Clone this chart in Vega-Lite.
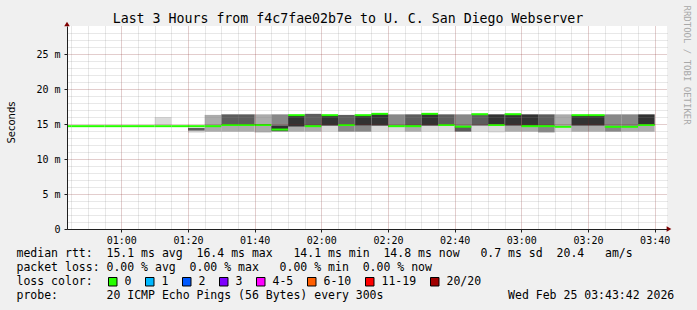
{
  "$schema": "https://vega.github.io/schema/vega-lite/v6.json",
  "width": 600,
  "height": 203,
  "autosize": {"type": "none"},
  "padding": {"left": 67, "top": 26, "right": 30, "bottom": 81},
  "background": "#f0f0f0",
  "view": {"fill": "#ffffff", "stroke": null},
  "config": {"font": "DejaVu Sans Mono"},
  "title": {
    "text": "Last 3 Hours from f4c7fae02b7e to U. C. San Diego Webserver",
    "font": "DejaVu Sans Mono",
    "fontSize": 13.25,
    "fontWeight": "normal",
    "color": "#000000",
    "anchor": "middle",
    "frame": "group",
    "dx": -19,
    "dy": 34,
    "baseline": "alphabetic",
    "offset": 3
  },
  "datasets": {
    "smoke": [
      {"t0": "2026-02-25T01:10:00", "t1": "2026-02-25T01:15:00", "lo": 14.86, "hi": 16.0, "d": 1},
      {"t0": "2026-02-25T01:20:00", "t1": "2026-02-25T01:25:00", "lo": 13.76, "hi": 14.05, "d": 1},
      {"t0": "2026-02-25T01:20:00", "t1": "2026-02-25T01:25:00", "lo": 14.05, "hi": 14.45, "d": 4},
      {"t0": "2026-02-25T01:25:00", "t1": "2026-02-25T01:30:00", "lo": 13.9, "hi": 16.3, "d": 2},
      {"t0": "2026-02-25T01:30:00", "t1": "2026-02-25T01:35:00", "lo": 13.9, "hi": 14.86, "d": 2},
      {"t0": "2026-02-25T01:30:00", "t1": "2026-02-25T01:35:00", "lo": 14.86, "hi": 16.38, "d": 4},
      {"t0": "2026-02-25T01:35:00", "t1": "2026-02-25T01:40:00", "lo": 13.9, "hi": 14.86, "d": 2},
      {"t0": "2026-02-25T01:35:00", "t1": "2026-02-25T01:40:00", "lo": 14.86, "hi": 16.38, "d": 4},
      {"t0": "2026-02-25T01:40:00", "t1": "2026-02-25T01:45:00", "lo": 13.8, "hi": 16.38, "d": 2},
      {"t0": "2026-02-25T01:45:00", "t1": "2026-02-25T01:50:00", "lo": 13.9, "hi": 16.38, "d": 3},
      {"t0": "2026-02-25T01:45:00", "t1": "2026-02-25T01:50:00", "lo": 14.05, "hi": 14.76, "d": 5},
      {"t0": "2026-02-25T01:50:00", "t1": "2026-02-25T01:55:00", "lo": 13.9, "hi": 14.62, "d": 2},
      {"t0": "2026-02-25T01:50:00", "t1": "2026-02-25T01:55:00", "lo": 14.62, "hi": 16.26, "d": 5},
      {"t0": "2026-02-25T01:55:00", "t1": "2026-02-25T02:00:00", "lo": 13.9, "hi": 14.69, "d": 2},
      {"t0": "2026-02-25T01:55:00", "t1": "2026-02-25T02:00:00", "lo": 14.69, "hi": 16.45, "d": 4},
      {"t0": "2026-02-25T02:00:00", "t1": "2026-02-25T02:05:00", "lo": 13.9, "hi": 14.76, "d": 1},
      {"t0": "2026-02-25T02:00:00", "t1": "2026-02-25T02:05:00", "lo": 14.76, "hi": 16.26, "d": 5},
      {"t0": "2026-02-25T02:05:00", "t1": "2026-02-25T02:10:00", "lo": 13.9, "hi": 14.86, "d": 3},
      {"t0": "2026-02-25T02:05:00", "t1": "2026-02-25T02:10:00", "lo": 14.86, "hi": 16.3, "d": 4},
      {"t0": "2026-02-25T02:10:00", "t1": "2026-02-25T02:15:00", "lo": 13.9, "hi": 14.76, "d": 3},
      {"t0": "2026-02-25T02:10:00", "t1": "2026-02-25T02:15:00", "lo": 14.76, "hi": 16.26, "d": 5},
      {"t0": "2026-02-25T02:15:00", "t1": "2026-02-25T02:20:00", "lo": 13.9, "hi": 14.76, "d": 1},
      {"t0": "2026-02-25T02:15:00", "t1": "2026-02-25T02:20:00", "lo": 14.76, "hi": 16.45, "d": 5},
      {"t0": "2026-02-25T02:20:00", "t1": "2026-02-25T02:25:00", "lo": 13.9, "hi": 14.69, "d": 1},
      {"t0": "2026-02-25T02:20:00", "t1": "2026-02-25T02:25:00", "lo": 14.69, "hi": 16.38, "d": 3},
      {"t0": "2026-02-25T02:25:00", "t1": "2026-02-25T02:30:00", "lo": 13.9, "hi": 14.69, "d": 2},
      {"t0": "2026-02-25T02:25:00", "t1": "2026-02-25T02:30:00", "lo": 14.69, "hi": 16.38, "d": 4},
      {"t0": "2026-02-25T02:30:00", "t1": "2026-02-25T02:35:00", "lo": 13.9, "hi": 14.76, "d": 1},
      {"t0": "2026-02-25T02:30:00", "t1": "2026-02-25T02:35:00", "lo": 14.76, "hi": 16.45, "d": 5},
      {"t0": "2026-02-25T02:35:00", "t1": "2026-02-25T02:40:00", "lo": 13.9, "hi": 14.86, "d": 1},
      {"t0": "2026-02-25T02:35:00", "t1": "2026-02-25T02:40:00", "lo": 14.86, "hi": 16.38, "d": 4},
      {"t0": "2026-02-25T02:40:00", "t1": "2026-02-25T02:45:00", "lo": 13.9, "hi": 14.62, "d": 4},
      {"t0": "2026-02-25T02:40:00", "t1": "2026-02-25T02:45:00", "lo": 14.62, "hi": 16.38, "d": 3},
      {"t0": "2026-02-25T02:45:00", "t1": "2026-02-25T02:50:00", "lo": 13.9, "hi": 14.76, "d": 1},
      {"t0": "2026-02-25T02:45:00", "t1": "2026-02-25T02:50:00", "lo": 14.76, "hi": 16.4, "d": 4},
      {"t0": "2026-02-25T02:50:00", "t1": "2026-02-25T02:55:00", "lo": 13.8, "hi": 14.86, "d": 1},
      {"t0": "2026-02-25T02:50:00", "t1": "2026-02-25T02:55:00", "lo": 14.86, "hi": 16.38, "d": 5},
      {"t0": "2026-02-25T02:55:00", "t1": "2026-02-25T03:00:00", "lo": 13.9, "hi": 14.76, "d": 2},
      {"t0": "2026-02-25T02:55:00", "t1": "2026-02-25T03:00:00", "lo": 14.76, "hi": 16.4, "d": 5},
      {"t0": "2026-02-25T03:00:00", "t1": "2026-02-25T03:05:00", "lo": 13.9, "hi": 14.69, "d": 2},
      {"t0": "2026-02-25T03:00:00", "t1": "2026-02-25T03:05:00", "lo": 14.69, "hi": 16.38, "d": 5},
      {"t0": "2026-02-25T03:05:00", "t1": "2026-02-25T03:10:00", "lo": 13.8, "hi": 14.69, "d": 3},
      {"t0": "2026-02-25T03:05:00", "t1": "2026-02-25T03:10:00", "lo": 14.69, "hi": 16.38, "d": 4},
      {"t0": "2026-02-25T03:10:00", "t1": "2026-02-25T03:15:00", "lo": 13.9, "hi": 14.6, "d": 1},
      {"t0": "2026-02-25T03:10:00", "t1": "2026-02-25T03:15:00", "lo": 14.6, "hi": 16.38, "d": 2},
      {"t0": "2026-02-25T03:15:00", "t1": "2026-02-25T03:20:00", "lo": 13.9, "hi": 14.76, "d": 2},
      {"t0": "2026-02-25T03:15:00", "t1": "2026-02-25T03:20:00", "lo": 14.76, "hi": 16.26, "d": 5},
      {"t0": "2026-02-25T03:20:00", "t1": "2026-02-25T03:25:00", "lo": 13.9, "hi": 14.76, "d": 2},
      {"t0": "2026-02-25T03:20:00", "t1": "2026-02-25T03:25:00", "lo": 14.76, "hi": 16.26, "d": 5},
      {"t0": "2026-02-25T03:25:00", "t1": "2026-02-25T03:30:00", "lo": 13.9, "hi": 14.6, "d": 3},
      {"t0": "2026-02-25T03:25:00", "t1": "2026-02-25T03:30:00", "lo": 14.6, "hi": 16.38, "d": 3},
      {"t0": "2026-02-25T03:30:00", "t1": "2026-02-25T03:35:00", "lo": 13.9, "hi": 14.6, "d": 2},
      {"t0": "2026-02-25T03:30:00", "t1": "2026-02-25T03:35:00", "lo": 14.6, "hi": 16.38, "d": 3},
      {"t0": "2026-02-25T03:35:00", "t1": "2026-02-25T03:40:00", "lo": 13.9, "hi": 14.86, "d": 2},
      {"t0": "2026-02-25T03:35:00", "t1": "2026-02-25T03:40:00", "lo": 14.86, "hi": 16.38, "d": 5}
    ],
    "median": [
      {"t0": "2026-02-25T00:40:00", "t1": "2026-02-25T00:45:00", "ms": 14.69, "loss": "0"},
      {"t0": "2026-02-25T00:45:00", "t1": "2026-02-25T00:50:00", "ms": 14.69, "loss": "0"},
      {"t0": "2026-02-25T00:50:00", "t1": "2026-02-25T00:55:00", "ms": 14.69, "loss": "0"},
      {"t0": "2026-02-25T00:55:00", "t1": "2026-02-25T01:00:00", "ms": 14.69, "loss": "0"},
      {"t0": "2026-02-25T01:00:00", "t1": "2026-02-25T01:05:00", "ms": 14.69, "loss": "0"},
      {"t0": "2026-02-25T01:05:00", "t1": "2026-02-25T01:10:00", "ms": 14.69, "loss": "0"},
      {"t0": "2026-02-25T01:10:00", "t1": "2026-02-25T01:15:00", "ms": 14.69, "loss": "0"},
      {"t0": "2026-02-25T01:15:00", "t1": "2026-02-25T01:20:00", "ms": 14.69, "loss": "0"},
      {"t0": "2026-02-25T01:20:00", "t1": "2026-02-25T01:25:00", "ms": 14.69, "loss": "0"},
      {"t0": "2026-02-25T01:25:00", "t1": "2026-02-25T01:30:00", "ms": 14.69, "loss": "0"},
      {"t0": "2026-02-25T01:30:00", "t1": "2026-02-25T01:35:00", "ms": 14.86, "loss": "0"},
      {"t0": "2026-02-25T01:35:00", "t1": "2026-02-25T01:40:00", "ms": 14.86, "loss": "0"},
      {"t0": "2026-02-25T01:40:00", "t1": "2026-02-25T01:45:00", "ms": 14.86, "loss": "0"},
      {"t0": "2026-02-25T01:45:00", "t1": "2026-02-25T01:50:00", "ms": 14.21, "loss": "0"},
      {"t0": "2026-02-25T01:50:00", "t1": "2026-02-25T01:55:00", "ms": 16.26, "loss": "0"},
      {"t0": "2026-02-25T01:55:00", "t1": "2026-02-25T02:00:00", "ms": 14.69, "loss": "0"},
      {"t0": "2026-02-25T02:00:00", "t1": "2026-02-25T02:05:00", "ms": 16.26, "loss": "0"},
      {"t0": "2026-02-25T02:05:00", "t1": "2026-02-25T02:10:00", "ms": 14.86, "loss": "0"},
      {"t0": "2026-02-25T02:10:00", "t1": "2026-02-25T02:15:00", "ms": 16.26, "loss": "0"},
      {"t0": "2026-02-25T02:15:00", "t1": "2026-02-25T02:20:00", "ms": 16.45, "loss": "0"},
      {"t0": "2026-02-25T02:20:00", "t1": "2026-02-25T02:25:00", "ms": 14.69, "loss": "0"},
      {"t0": "2026-02-25T02:25:00", "t1": "2026-02-25T02:30:00", "ms": 14.69, "loss": "0"},
      {"t0": "2026-02-25T02:30:00", "t1": "2026-02-25T02:35:00", "ms": 16.45, "loss": "0"},
      {"t0": "2026-02-25T02:35:00", "t1": "2026-02-25T02:40:00", "ms": 14.86, "loss": "0"},
      {"t0": "2026-02-25T02:40:00", "t1": "2026-02-25T02:45:00", "ms": 14.62, "loss": "0"},
      {"t0": "2026-02-25T02:45:00", "t1": "2026-02-25T02:50:00", "ms": 16.4, "loss": "0"},
      {"t0": "2026-02-25T02:50:00", "t1": "2026-02-25T02:55:00", "ms": 14.86, "loss": "0"},
      {"t0": "2026-02-25T02:55:00", "t1": "2026-02-25T03:00:00", "ms": 16.4, "loss": "0"},
      {"t0": "2026-02-25T03:00:00", "t1": "2026-02-25T03:05:00", "ms": 14.69, "loss": "0"},
      {"t0": "2026-02-25T03:05:00", "t1": "2026-02-25T03:10:00", "ms": 14.69, "loss": "0"},
      {"t0": "2026-02-25T03:10:00", "t1": "2026-02-25T03:15:00", "ms": 14.6, "loss": "0"},
      {"t0": "2026-02-25T03:15:00", "t1": "2026-02-25T03:20:00", "ms": 16.26, "loss": "0"},
      {"t0": "2026-02-25T03:20:00", "t1": "2026-02-25T03:25:00", "ms": 16.26, "loss": "0"},
      {"t0": "2026-02-25T03:25:00", "t1": "2026-02-25T03:30:00", "ms": 14.6, "loss": "0"},
      {"t0": "2026-02-25T03:30:00", "t1": "2026-02-25T03:35:00", "ms": 14.6, "loss": "0"},
      {"t0": "2026-02-25T03:35:00", "t1": "2026-02-25T03:40:00", "ms": 14.86, "loss": "0"}
    ],
    "arrows": [
      {"t": "2026-02-25T00:43:42", "v": 29, "dir": "up"},
      {"t": "2026-02-25T03:43:42", "v": 0, "dir": "right"}
    ]
  },
  "layer": [
    {
      "data": {"name": "smoke"},
      "mark": {"type": "rect"},
      "encoding": {
        "x": {
          "field": "t0", "type": "temporal",
          "scale": {"domain": [
            {"year": 2026, "month": 2, "date": 25, "hours": 0, "minutes": 43, "seconds": 42},
            {"year": 2026, "month": 2, "date": 25, "hours": 3, "minutes": 43, "seconds": 42}
          ], "nice": false},
          "axis": {
            "orient": "bottom",
            "values": [
              {"year": 2026, "month": 2, "date": 25, "hours": 1, "minutes": 0},
              {"year": 2026, "month": 2, "date": 25, "hours": 1, "minutes": 20},
              {"year": 2026, "month": 2, "date": 25, "hours": 1, "minutes": 40},
              {"year": 2026, "month": 2, "date": 25, "hours": 2, "minutes": 0},
              {"year": 2026, "month": 2, "date": 25, "hours": 2, "minutes": 20},
              {"year": 2026, "month": 2, "date": 25, "hours": 2, "minutes": 40},
              {"year": 2026, "month": 2, "date": 25, "hours": 3, "minutes": 0},
              {"year": 2026, "month": 2, "date": 25, "hours": 3, "minutes": 20},
              {"year": 2026, "month": 2, "date": 25, "hours": 3, "minutes": 40}
            ],
            "format": "%H:%M",
            "grid": true, "gridColor": "#821e1e", "gridOpacity": 0.45, "gridDash": [1, 1],
            "domainColor": "#202020", "tickColor": "#202020", "tickSize": 3,
            "labelFont": "DejaVu Sans Mono", "labelFontSize": 10, "labelColor": "#000000", "labelPadding": 3, "labelFlush": false,
            "zindex": 1,
            "title": [
              "median rtt:\u00a0\u00a015.1 ms avg\u00a0\u00a016.4 ms max\u00a0\u00a0\u00a014.1 ms min\u00a0\u00a014.8 ms now\u00a0\u00a0\u00a00.7 ms sd\u00a0\u00a020.4\u00a0\u00a0\u00a0am/s",
              "packet loss: 0.00 % avg\u00a0\u00a00.00 % max\u00a0\u00a0\u00a00.00 % min\u00a0\u00a00.00 % now",
              "loss color:",
              "probe:\u00a0\u00a0\u00a0\u00a0\u00a0\u00a0\u00a020 ICMP Echo Pings (56 Bytes) every 300s\u00a0\u00a0\u00a0\u00a0\u00a0\u00a0\u00a0\u00a0\u00a0\u00a0\u00a0\u00a0\u00a0\u00a0\u00a0\u00a0\u00a0\u00a0Wed Feb 25 03:43:42 2026"
            ],
            "titleFont": "DejaVu Sans Mono", "titleFontSize": 11.5, "titleFontWeight": "normal", "titleColor": "#000000",
            "titleAnchor": "start", "titleAlign": "left", "titleBaseline": "top",
            "titleX": -51, "titleY": 18, "titleLineHeight": 14
          }
        },
        "x2": {"field": "t1"},
        "y": {
          "field": "lo", "type": "quantitative",
          "scale": {"domain": [0, 29], "nice": false, "zero": true},
          "axis": {
            "orient": "left",
            "values": [0, 5, 10, 15, 20, 25],
            "labelExpr": "datum.value == 0 ? '0\u00a0\u00a0' : datum.value + ' m'",
            "grid": true, "gridColor": "#821e1e", "gridOpacity": 0.45, "gridDash": [1, 1],
            "domainColor": "#202020", "tickColor": "#202020", "tickSize": 3,
            "labelFont": "DejaVu Sans Mono", "labelFontSize": 10, "labelColor": "#000000", "labelPadding": 4,
            "zindex": 1,
            "title": "Seconds",
            "titleFont": "DejaVu Sans", "titleFontSize": 10, "titleFontWeight": "normal", "titleColor": "#000000",
            "titleAngle": -90, "titleBaseline": "middle", "titleAlign": "center",
            "titleX": -56, "titleY": 96
          }
        },
        "y2": {"field": "hi"},
        "fill": {
          "field": "d", "type": "ordinal",
          "scale": {"domain": [1, 2, 3, 4, 5], "range": ["#dadada", "#ababab", "#878787", "#5c5c5c", "#323232"]},
          "legend": null
        },
        "order": {"field": "d", "type": "quantitative"}
      }
    },
    {
      "data": {"name": "median"},
      "mark": {"type": "rule", "strokeWidth": 2, "clip": true, "color": "#26ff00"},
      "encoding": {
        "x": {
          "field": "t0", "type": "temporal",
          "axis": {
            "orient": "top",
            "values": [
              {"year": 2026, "month": 2, "date": 25, "hours": 0, "minutes": 45},
              {"year": 2026, "month": 2, "date": 25, "hours": 0, "minutes": 50},
              {"year": 2026, "month": 2, "date": 25, "hours": 0, "minutes": 55},
              {"year": 2026, "month": 2, "date": 25, "hours": 1, "minutes": 5},
              {"year": 2026, "month": 2, "date": 25, "hours": 1, "minutes": 10},
              {"year": 2026, "month": 2, "date": 25, "hours": 1, "minutes": 15},
              {"year": 2026, "month": 2, "date": 25, "hours": 1, "minutes": 25},
              {"year": 2026, "month": 2, "date": 25, "hours": 1, "minutes": 30},
              {"year": 2026, "month": 2, "date": 25, "hours": 1, "minutes": 35},
              {"year": 2026, "month": 2, "date": 25, "hours": 1, "minutes": 45},
              {"year": 2026, "month": 2, "date": 25, "hours": 1, "minutes": 50},
              {"year": 2026, "month": 2, "date": 25, "hours": 1, "minutes": 55},
              {"year": 2026, "month": 2, "date": 25, "hours": 2, "minutes": 5},
              {"year": 2026, "month": 2, "date": 25, "hours": 2, "minutes": 10},
              {"year": 2026, "month": 2, "date": 25, "hours": 2, "minutes": 15},
              {"year": 2026, "month": 2, "date": 25, "hours": 2, "minutes": 25},
              {"year": 2026, "month": 2, "date": 25, "hours": 2, "minutes": 30},
              {"year": 2026, "month": 2, "date": 25, "hours": 2, "minutes": 35},
              {"year": 2026, "month": 2, "date": 25, "hours": 2, "minutes": 45},
              {"year": 2026, "month": 2, "date": 25, "hours": 2, "minutes": 50},
              {"year": 2026, "month": 2, "date": 25, "hours": 2, "minutes": 55},
              {"year": 2026, "month": 2, "date": 25, "hours": 3, "minutes": 5},
              {"year": 2026, "month": 2, "date": 25, "hours": 3, "minutes": 10},
              {"year": 2026, "month": 2, "date": 25, "hours": 3, "minutes": 15},
              {"year": 2026, "month": 2, "date": 25, "hours": 3, "minutes": 25},
              {"year": 2026, "month": 2, "date": 25, "hours": 3, "minutes": 30},
              {"year": 2026, "month": 2, "date": 25, "hours": 3, "minutes": 35}
            ],
            "grid": true, "gridColor": "#8c8c8c", "gridOpacity": 0.4, "gridDash": [1, 1],
            "labels": false, "ticks": false, "domain": false, "title": null,
            "zindex": 1
          }
        },
        "x2": {"field": "t1"},
        "y": {
          "field": "ms", "type": "quantitative",
          "axis": {
            "orient": "right",
            "values": [1, 2, 3, 4, 6, 7, 8, 9, 11, 12, 13, 14, 16, 17, 18, 19, 21, 22, 23, 24, 26, 27, 28],
            "grid": true, "gridColor": "#8c8c8c", "gridOpacity": 0.4, "gridDash": [1, 1],
            "labels": false, "ticks": false, "domain": false,
            "zindex": 1,
            "title": "RRDTOOL / TOBI OETIKER",
            "titleFont": "DejaVu Sans Mono", "titleFontSize": 9, "titleFontWeight": "normal", "titleColor": "#a8a8a8",
            "titleAngle": 90, "titleAlign": "left", "titleBaseline": "middle",
            "titleX": 19, "titleY": -21
          }
        }
      }
    },
    {
      "data": {"name": "median"},
      "transform": [{"filter": "datum.ms < 0"}],
      "mark": {"type": "point", "shape": "square", "filled": true},
      "encoding": {
        "x": {"field": "t0", "type": "temporal", "axis": null},
        "y": {"field": "ms", "type": "quantitative", "axis": null},
        "color": {
          "field": "loss", "type": "nominal",
          "scale": {
            "domain": ["0", "1", "2", "3", "4-5", "6-10", "11-19", "20/20"],
            "range": ["#26ff00", "#00b8ff", "#0059ff", "#7e00ff", "#ff00ff", "#ff5e00", "#ff0000", "#a10000"]
          },
          "legend": {
            "orient": "none", "legendX": 40, "legendY": 250,
            "direction": "horizontal", "title": null, "padding": 0,
            "symbolType": "square", "symbolSize": 72, "symbolStrokeColor": "#000000", "symbolStrokeWidth": 1, "symbolOpacity": 1,
            "labelFont": "DejaVu Sans Mono", "labelFontSize": 11.5, "labelColor": "#000000", "labelOffset": 6,
            "columnPadding": 11
          }
        }
      }
    },
    {
      "data": {"name": "arrows"},
      "transform": [{"filter": "datum.dir == 'up'"}],
      "mark": {"type": "point", "shape": "triangle-up", "filled": true, "color": "#800000", "size": 30, "opacity": 1, "yOffset": -2},
      "encoding": {
        "x": {"field": "t", "type": "temporal", "axis": null},
        "y": {"field": "v", "type": "quantitative", "axis": null}
      }
    },
    {
      "data": {"name": "arrows"},
      "transform": [{"filter": "datum.dir == 'right'"}],
      "mark": {"type": "point", "shape": "triangle-right", "filled": true, "color": "#800000", "size": 30, "opacity": 1, "xOffset": 2},
      "encoding": {
        "x": {"field": "t", "type": "temporal", "axis": null},
        "y": {"field": "v", "type": "quantitative", "axis": null}
      }
    }
  ],
  "resolve": {"axis": {"x": "independent", "y": "independent"}}
}
